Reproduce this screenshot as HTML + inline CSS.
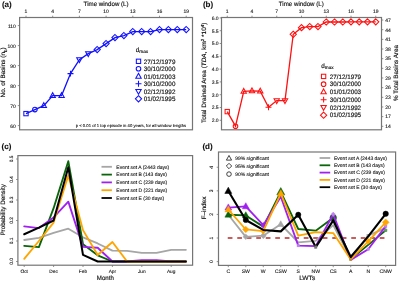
<!DOCTYPE html><html><head><meta charset="utf-8"><style>html,body{margin:0;padding:0;background:#fff;}svg{display:block;filter:blur(0.3px);}</style></head><body>
<svg width="401" height="282" viewBox="0 0 401 282" text-rendering="geometricPrecision" font-family='"Liberation Sans", sans-serif'>
<style>text{stroke:#111;stroke-width:0.1px;} .t{stroke-width:0.15px;}</style>
<rect width="401" height="282" fill="#fff"/>
<text x="1.90" y="7.40" font-size="8.0" text-anchor="start" fill="#111" font-weight="bold">(a)</text>
<text class="t" x="106.10" y="5.70" font-size="6.3" text-anchor="middle" fill="#111" textLength="45" lengthAdjust="spacingAndGlyphs" >Time window (L)</text>
<line x1="26.00" y1="17.5" x2="26.00" y2="15.7" stroke="#757575" stroke-width="0.8"/>
<text x="26.00" y="13.20" font-size="5.0" text-anchor="middle" fill="#111" >1</text>
<line x1="52.70" y1="17.5" x2="52.70" y2="15.7" stroke="#757575" stroke-width="0.8"/>
<text x="52.70" y="13.20" font-size="5.0" text-anchor="middle" fill="#111" >4</text>
<line x1="79.40" y1="17.5" x2="79.40" y2="15.7" stroke="#757575" stroke-width="0.8"/>
<text x="79.40" y="13.20" font-size="5.0" text-anchor="middle" fill="#111" >7</text>
<line x1="106.10" y1="17.5" x2="106.10" y2="15.7" stroke="#757575" stroke-width="0.8"/>
<text x="106.10" y="13.20" font-size="5.0" text-anchor="middle" fill="#111" >10</text>
<line x1="132.80" y1="17.5" x2="132.80" y2="15.7" stroke="#757575" stroke-width="0.8"/>
<text x="132.80" y="13.20" font-size="5.0" text-anchor="middle" fill="#111" >13</text>
<line x1="159.50" y1="17.5" x2="159.50" y2="15.7" stroke="#757575" stroke-width="0.8"/>
<text x="159.50" y="13.20" font-size="5.0" text-anchor="middle" fill="#111" >16</text>
<line x1="186.20" y1="17.5" x2="186.20" y2="15.7" stroke="#757575" stroke-width="0.8"/>
<text x="186.20" y="13.20" font-size="5.0" text-anchor="middle" fill="#111" >19</text>
<line x1="19.6" y1="125.60" x2="17.8" y2="125.60" stroke="#757575" stroke-width="0.8"/>
<text x="15.90" y="127.60" font-size="5.0" text-anchor="end" fill="#111" >60</text>
<line x1="19.6" y1="105.60" x2="17.8" y2="105.60" stroke="#757575" stroke-width="0.8"/>
<text x="15.90" y="107.60" font-size="5.0" text-anchor="end" fill="#111" >70</text>
<line x1="19.6" y1="85.60" x2="17.8" y2="85.60" stroke="#757575" stroke-width="0.8"/>
<text x="15.90" y="87.60" font-size="5.0" text-anchor="end" fill="#111" >80</text>
<line x1="19.6" y1="65.60" x2="17.8" y2="65.60" stroke="#757575" stroke-width="0.8"/>
<text x="15.90" y="67.60" font-size="5.0" text-anchor="end" fill="#111" >90</text>
<line x1="19.6" y1="45.60" x2="17.8" y2="45.60" stroke="#757575" stroke-width="0.8"/>
<text x="15.90" y="47.60" font-size="5.0" text-anchor="end" fill="#111" >100</text>
<line x1="19.6" y1="25.60" x2="17.8" y2="25.60" stroke="#757575" stroke-width="0.8"/>
<text x="15.90" y="27.60" font-size="5.0" text-anchor="end" fill="#111" >110</text>
<rect x="19.6" y="17.5" width="172.9" height="112.30000000000001" fill="none" stroke="#757575" stroke-width="1.2"/>
<text class="t" transform="translate(5.20,72.40) rotate(-90)" font-size="6.3" text-anchor="middle" fill="#111" textLength="50" lengthAdjust="spacingAndGlyphs" >No. of Basins (n<tspan font-size="4.4" dy="1.4">b</tspan><tspan dy="-1.4">)</tspan></text>
<polyline points="26.00,113.60 34.90,109.60 43.80,105.60 52.70,95.60 61.60,95.60 70.50,73.60 79.40,59.60 88.30,53.60 97.20,49.60 106.10,43.60 115.00,37.60 123.90,35.60 132.80,31.60 141.70,31.60 150.60,31.60 159.50,29.60 168.40,29.60 177.30,29.60 186.20,29.60" fill="none" stroke="#1010ff" stroke-width="1.3"/>
<rect x="23.84" y="111.44" width="4.32" height="4.32" fill="none" stroke="#1010ff" stroke-width="1.05"/>
<circle cx="34.90" cy="109.60" r="2.29" fill="none" stroke="#1010ff" stroke-width="1.05"/>
<path d="M43.80,102.63 L46.50,107.49 L41.10,107.49 Z" fill="none" stroke="#1010ff" stroke-width="1.05"/>
<path d="M52.70,92.63 L55.40,97.49 L50.00,97.49 Z" fill="none" stroke="#1010ff" stroke-width="1.05"/>
<path d="M61.60,92.63 L64.30,97.49 L58.90,97.49 Z" fill="none" stroke="#1010ff" stroke-width="1.05"/>
<path d="M67.53,73.60 H73.47 M70.50,70.63 V76.57" stroke="#1010ff" stroke-width="1.05"/>
<path d="M79.40,62.57 L82.10,57.71 L76.70,57.71 Z" fill="none" stroke="#1010ff" stroke-width="1.05"/>
<path d="M88.30,56.57 L91.00,51.71 L85.60,51.71 Z" fill="none" stroke="#1010ff" stroke-width="1.05"/>
<path d="M97.20,46.50 L100.31,49.60 L97.20,52.70 L94.09,49.60 Z" fill="none" stroke="#1010ff" stroke-width="1.05"/>
<path d="M106.10,40.50 L109.21,43.60 L106.10,46.70 L103.00,43.60 Z" fill="none" stroke="#1010ff" stroke-width="1.05"/>
<path d="M115.00,34.50 L118.11,37.60 L115.00,40.70 L111.89,37.60 Z" fill="none" stroke="#1010ff" stroke-width="1.05"/>
<path d="M123.90,32.50 L127.01,35.60 L123.90,38.70 L120.80,35.60 Z" fill="none" stroke="#1010ff" stroke-width="1.05"/>
<path d="M132.80,28.50 L135.91,31.60 L132.80,34.70 L129.70,31.60 Z" fill="none" stroke="#1010ff" stroke-width="1.05"/>
<path d="M141.70,28.50 L144.80,31.60 L141.70,34.70 L138.59,31.60 Z" fill="none" stroke="#1010ff" stroke-width="1.05"/>
<path d="M150.60,28.50 L153.71,31.60 L150.60,34.70 L147.50,31.60 Z" fill="none" stroke="#1010ff" stroke-width="1.05"/>
<path d="M159.50,26.50 L162.60,29.60 L159.50,32.70 L156.40,29.60 Z" fill="none" stroke="#1010ff" stroke-width="1.05"/>
<path d="M168.40,26.50 L171.50,29.60 L168.40,32.70 L165.30,29.60 Z" fill="none" stroke="#1010ff" stroke-width="1.05"/>
<path d="M177.30,26.50 L180.41,29.60 L177.30,32.70 L174.20,29.60 Z" fill="none" stroke="#1010ff" stroke-width="1.05"/>
<path d="M186.20,26.50 L189.31,29.60 L186.20,32.70 L183.10,29.60 Z" fill="none" stroke="#1010ff" stroke-width="1.05"/>
<text class="t" x="135.80" y="51.80" font-size="6.3" text-anchor="start" fill="#111" >d<tspan font-size="4.7" dy="1.2">max</tspan></text>
<rect x="136.34" y="59.14" width="4.32" height="4.32" fill="none" stroke="#1010ff" stroke-width="1.05"/>
<text class="t" x="143.80" y="63.60" font-size="6.3" text-anchor="start" fill="#111" textLength="31.6" lengthAdjust="spacingAndGlyphs" >27/12/1979</text>
<circle cx="138.50" cy="68.80" r="2.29" fill="none" stroke="#1010ff" stroke-width="1.05"/>
<text class="t" x="143.80" y="71.10" font-size="6.3" text-anchor="start" fill="#111" textLength="31.6" lengthAdjust="spacingAndGlyphs" >30/10/2000</text>
<path d="M138.50,73.33 L141.20,78.19 L135.80,78.19 Z" fill="none" stroke="#1010ff" stroke-width="1.05"/>
<text class="t" x="143.80" y="78.60" font-size="6.3" text-anchor="start" fill="#111" textLength="31.6" lengthAdjust="spacingAndGlyphs" >01/01/2003</text>
<path d="M135.53,83.80 H141.47 M138.50,80.83 V86.77" stroke="#1010ff" stroke-width="1.05"/>
<text class="t" x="143.80" y="86.10" font-size="6.3" text-anchor="start" fill="#111" textLength="31.6" lengthAdjust="spacingAndGlyphs" >30/10/2000</text>
<path d="M138.50,94.27 L141.20,89.41 L135.80,89.41 Z" fill="none" stroke="#1010ff" stroke-width="1.05"/>
<text class="t" x="143.80" y="93.60" font-size="6.3" text-anchor="start" fill="#111" textLength="31.6" lengthAdjust="spacingAndGlyphs" >02/12/1992</text>
<path d="M138.50,95.69 L141.60,98.80 L138.50,101.91 L135.40,98.80 Z" fill="none" stroke="#1010ff" stroke-width="1.05"/>
<text class="t" x="143.80" y="101.10" font-size="6.3" text-anchor="start" fill="#111" textLength="31.6" lengthAdjust="spacingAndGlyphs" >01/02/1995</text>
<text x="75.70" y="126.80" font-size="4.2" text-anchor="start" fill="#111" textLength="110.5" lengthAdjust="spacingAndGlyphs" >p &lt; 0.01 of 1 top episode in 40 years, for all window lengths</text>
<text x="202.90" y="7.40" font-size="8.0" text-anchor="start" fill="#111" font-weight="bold">(b)</text>
<text class="t" x="301.30" y="5.70" font-size="6.3" text-anchor="middle" fill="#111" textLength="45" lengthAdjust="spacingAndGlyphs" >Time window (L)</text>
<line x1="227.25" y1="17.5" x2="227.25" y2="15.7" stroke="#757575" stroke-width="0.8"/>
<text x="227.25" y="13.20" font-size="5.0" text-anchor="middle" fill="#111" >1</text>
<line x1="252.00" y1="17.5" x2="252.00" y2="15.7" stroke="#757575" stroke-width="0.8"/>
<text x="252.00" y="13.20" font-size="5.0" text-anchor="middle" fill="#111" >4</text>
<line x1="276.75" y1="17.5" x2="276.75" y2="15.7" stroke="#757575" stroke-width="0.8"/>
<text x="276.75" y="13.20" font-size="5.0" text-anchor="middle" fill="#111" >7</text>
<line x1="301.50" y1="17.5" x2="301.50" y2="15.7" stroke="#757575" stroke-width="0.8"/>
<text x="301.50" y="13.20" font-size="5.0" text-anchor="middle" fill="#111" >10</text>
<line x1="326.25" y1="17.5" x2="326.25" y2="15.7" stroke="#757575" stroke-width="0.8"/>
<text x="326.25" y="13.20" font-size="5.0" text-anchor="middle" fill="#111" >13</text>
<line x1="351.00" y1="17.5" x2="351.00" y2="15.7" stroke="#757575" stroke-width="0.8"/>
<text x="351.00" y="13.20" font-size="5.0" text-anchor="middle" fill="#111" >16</text>
<line x1="375.75" y1="17.5" x2="375.75" y2="15.7" stroke="#757575" stroke-width="0.8"/>
<text x="375.75" y="13.20" font-size="5.0" text-anchor="middle" fill="#111" >19</text>
<line x1="221.5" y1="120.30" x2="219.7" y2="120.30" stroke="#757575" stroke-width="0.8"/>
<text x="218.60" y="122.10" font-size="5.0" text-anchor="end" fill="#111" >2.0</text>
<line x1="221.5" y1="107.50" x2="219.7" y2="107.50" stroke="#757575" stroke-width="0.8"/>
<text x="218.60" y="109.30" font-size="5.0" text-anchor="end" fill="#111" >2.5</text>
<line x1="221.5" y1="94.70" x2="219.7" y2="94.70" stroke="#757575" stroke-width="0.8"/>
<text x="218.60" y="96.50" font-size="5.0" text-anchor="end" fill="#111" >3.0</text>
<line x1="221.5" y1="81.90" x2="219.7" y2="81.90" stroke="#757575" stroke-width="0.8"/>
<text x="218.60" y="83.70" font-size="5.0" text-anchor="end" fill="#111" >3.5</text>
<line x1="221.5" y1="69.10" x2="219.7" y2="69.10" stroke="#757575" stroke-width="0.8"/>
<text x="218.60" y="70.90" font-size="5.0" text-anchor="end" fill="#111" >4.0</text>
<line x1="221.5" y1="56.30" x2="219.7" y2="56.30" stroke="#757575" stroke-width="0.8"/>
<text x="218.60" y="58.10" font-size="5.0" text-anchor="end" fill="#111" >4.5</text>
<line x1="221.5" y1="43.50" x2="219.7" y2="43.50" stroke="#757575" stroke-width="0.8"/>
<text x="218.60" y="45.30" font-size="5.0" text-anchor="end" fill="#111" >5.0</text>
<line x1="221.5" y1="30.70" x2="219.7" y2="30.70" stroke="#757575" stroke-width="0.8"/>
<text x="218.60" y="32.50" font-size="5.0" text-anchor="end" fill="#111" >5.5</text>
<line x1="221.5" y1="17.90" x2="219.7" y2="17.90" stroke="#757575" stroke-width="0.8"/>
<text x="218.60" y="19.70" font-size="5.0" text-anchor="end" fill="#111" >6.0</text>
<line x1="381.5" y1="126.30" x2="383.3" y2="126.30" stroke="#757575" stroke-width="0.8"/>
<text x="385.20" y="128.10" font-size="5.0" text-anchor="start" fill="#111" >14</text>
<line x1="381.5" y1="116.64" x2="383.3" y2="116.64" stroke="#757575" stroke-width="0.8"/>
<text x="385.20" y="118.44" font-size="5.0" text-anchor="start" fill="#111" >17</text>
<line x1="381.5" y1="106.98" x2="383.3" y2="106.98" stroke="#757575" stroke-width="0.8"/>
<text x="385.20" y="108.78" font-size="5.0" text-anchor="start" fill="#111" >20</text>
<line x1="381.5" y1="97.32" x2="383.3" y2="97.32" stroke="#757575" stroke-width="0.8"/>
<text x="385.20" y="99.12" font-size="5.0" text-anchor="start" fill="#111" >23</text>
<line x1="381.5" y1="87.66" x2="383.3" y2="87.66" stroke="#757575" stroke-width="0.8"/>
<text x="385.20" y="89.46" font-size="5.0" text-anchor="start" fill="#111" >26</text>
<line x1="381.5" y1="78.00" x2="383.3" y2="78.00" stroke="#757575" stroke-width="0.8"/>
<text x="385.20" y="79.80" font-size="5.0" text-anchor="start" fill="#111" >29</text>
<line x1="381.5" y1="68.34" x2="383.3" y2="68.34" stroke="#757575" stroke-width="0.8"/>
<text x="385.20" y="70.14" font-size="5.0" text-anchor="start" fill="#111" >32</text>
<line x1="381.5" y1="58.68" x2="383.3" y2="58.68" stroke="#757575" stroke-width="0.8"/>
<text x="385.20" y="60.48" font-size="5.0" text-anchor="start" fill="#111" >35</text>
<line x1="381.5" y1="49.02" x2="383.3" y2="49.02" stroke="#757575" stroke-width="0.8"/>
<text x="385.20" y="50.82" font-size="5.0" text-anchor="start" fill="#111" >38</text>
<line x1="381.5" y1="39.36" x2="383.3" y2="39.36" stroke="#757575" stroke-width="0.8"/>
<text x="385.20" y="41.16" font-size="5.0" text-anchor="start" fill="#111" >41</text>
<line x1="381.5" y1="29.70" x2="383.3" y2="29.70" stroke="#757575" stroke-width="0.8"/>
<text x="385.20" y="31.50" font-size="5.0" text-anchor="start" fill="#111" >44</text>
<line x1="381.5" y1="20.04" x2="383.3" y2="20.04" stroke="#757575" stroke-width="0.8"/>
<text x="385.20" y="21.84" font-size="5.0" text-anchor="start" fill="#111" >47</text>
<rect x="221.5" y="17.5" width="160.0" height="112.30000000000001" fill="none" stroke="#757575" stroke-width="1.2"/>
<text class="t" transform="translate(206.20,72.80) rotate(-90)" font-size="6.3" text-anchor="middle" fill="#111" textLength="100.5" lengthAdjust="spacingAndGlyphs" >Total Drained Area (<tspan font-style="italic">TDA</tspan>, km<tspan font-size="4.4" dy="-2">2</tspan><tspan dy="2"> *10</tspan><tspan font-size="4.4" dy="-2">4</tspan><tspan dy="2">)</tspan></text>
<text class="t" transform="translate(398.40,73.00) rotate(-90)" font-size="6.3" text-anchor="middle" fill="#111" >% Total Basins Area</text>
<polyline points="227.25,111.60 235.50,126.19 243.75,91.37 252.00,90.86 260.25,91.12 268.50,107.24 276.75,100.59 285.00,100.59 293.25,34.28 301.50,27.63 309.75,26.60 318.00,26.60 326.25,22.00 334.50,22.00 342.75,22.00 351.00,21.87 359.25,21.87 367.50,21.87 375.75,21.87" fill="none" stroke="#ff1010" stroke-width="1.3"/>
<rect x="225.09" y="109.44" width="4.32" height="4.32" fill="none" stroke="#ff1010" stroke-width="1.05"/>
<circle cx="235.50" cy="126.19" r="2.29" fill="none" stroke="#ff1010" stroke-width="1.05"/>
<path d="M243.75,88.40 L246.45,93.26 L241.05,93.26 Z" fill="none" stroke="#ff1010" stroke-width="1.05"/>
<path d="M252.00,87.89 L254.70,92.75 L249.30,92.75 Z" fill="none" stroke="#ff1010" stroke-width="1.05"/>
<path d="M260.25,88.15 L262.95,93.01 L257.55,93.01 Z" fill="none" stroke="#ff1010" stroke-width="1.05"/>
<path d="M265.53,107.24 H271.47 M268.50,104.27 V110.21" stroke="#ff1010" stroke-width="1.05"/>
<path d="M276.75,103.56 L279.45,98.70 L274.05,98.70 Z" fill="none" stroke="#ff1010" stroke-width="1.05"/>
<path d="M285.00,103.56 L287.70,98.70 L282.30,98.70 Z" fill="none" stroke="#ff1010" stroke-width="1.05"/>
<path d="M293.25,31.18 L296.36,34.28 L293.25,37.39 L290.14,34.28 Z" fill="none" stroke="#ff1010" stroke-width="1.05"/>
<path d="M301.50,24.52 L304.61,27.63 L301.50,30.73 L298.39,27.63 Z" fill="none" stroke="#ff1010" stroke-width="1.05"/>
<path d="M309.75,23.50 L312.86,26.60 L309.75,29.71 L306.64,26.60 Z" fill="none" stroke="#ff1010" stroke-width="1.05"/>
<path d="M318.00,23.50 L321.11,26.60 L318.00,29.71 L314.89,26.60 Z" fill="none" stroke="#ff1010" stroke-width="1.05"/>
<path d="M326.25,18.89 L329.36,22.00 L326.25,25.10 L323.14,22.00 Z" fill="none" stroke="#ff1010" stroke-width="1.05"/>
<path d="M334.50,18.89 L337.61,22.00 L334.50,25.10 L331.39,22.00 Z" fill="none" stroke="#ff1010" stroke-width="1.05"/>
<path d="M342.75,18.89 L345.86,22.00 L342.75,25.10 L339.64,22.00 Z" fill="none" stroke="#ff1010" stroke-width="1.05"/>
<path d="M351.00,18.76 L354.11,21.87 L351.00,24.97 L347.89,21.87 Z" fill="none" stroke="#ff1010" stroke-width="1.05"/>
<path d="M359.25,18.76 L362.36,21.87 L359.25,24.97 L356.14,21.87 Z" fill="none" stroke="#ff1010" stroke-width="1.05"/>
<path d="M367.50,18.76 L370.61,21.87 L367.50,24.97 L364.39,21.87 Z" fill="none" stroke="#ff1010" stroke-width="1.05"/>
<path d="M375.75,18.76 L378.86,21.87 L375.75,24.97 L372.64,21.87 Z" fill="none" stroke="#ff1010" stroke-width="1.05"/>
<text class="t" x="321.30" y="68.00" font-size="6.3" text-anchor="start" fill="#111" >d<tspan font-size="4.7" dy="1.2">max</tspan></text>
<rect x="321.44" y="74.24" width="4.32" height="4.32" fill="none" stroke="#ff1010" stroke-width="1.05"/>
<text class="t" x="329.80" y="78.70" font-size="6.3" text-anchor="start" fill="#111" textLength="31.3" lengthAdjust="spacingAndGlyphs" >27/12/1979</text>
<circle cx="323.60" cy="84.15" r="2.29" fill="none" stroke="#ff1010" stroke-width="1.05"/>
<text class="t" x="329.80" y="86.45" font-size="6.3" text-anchor="start" fill="#111" textLength="31.3" lengthAdjust="spacingAndGlyphs" >30/10/2000</text>
<path d="M323.60,88.93 L326.30,93.79 L320.90,93.79 Z" fill="none" stroke="#ff1010" stroke-width="1.05"/>
<text class="t" x="329.80" y="94.20" font-size="6.3" text-anchor="start" fill="#111" textLength="31.3" lengthAdjust="spacingAndGlyphs" >01/01/2003</text>
<path d="M320.63,99.65 H326.57 M323.60,96.68 V102.62" stroke="#ff1010" stroke-width="1.05"/>
<text class="t" x="329.80" y="101.95" font-size="6.3" text-anchor="start" fill="#111" textLength="31.3" lengthAdjust="spacingAndGlyphs" >30/10/2000</text>
<path d="M323.60,110.37 L326.30,105.51 L320.90,105.51 Z" fill="none" stroke="#ff1010" stroke-width="1.05"/>
<text class="t" x="329.80" y="109.70" font-size="6.3" text-anchor="start" fill="#111" textLength="31.3" lengthAdjust="spacingAndGlyphs" >02/12/1992</text>
<path d="M323.60,112.05 L326.71,115.15 L323.60,118.26 L320.50,115.15 Z" fill="none" stroke="#ff1010" stroke-width="1.05"/>
<text class="t" x="329.80" y="117.45" font-size="6.3" text-anchor="start" fill="#111" textLength="31.3" lengthAdjust="spacingAndGlyphs" >01/02/1995</text>
<text x="1.60" y="149.10" font-size="8.0" text-anchor="start" fill="#111" font-weight="bold">(c)</text>
<line x1="24.20" y1="265.2" x2="24.20" y2="267.0" stroke="#757575" stroke-width="0.8"/>
<text x="24.20" y="272.50" font-size="4.8" text-anchor="middle" fill="#111" >Oct</text>
<line x1="53.60" y1="265.2" x2="53.60" y2="267.0" stroke="#757575" stroke-width="0.8"/>
<text x="53.60" y="272.50" font-size="4.8" text-anchor="middle" fill="#111" >Dec</text>
<line x1="83.00" y1="265.2" x2="83.00" y2="267.0" stroke="#757575" stroke-width="0.8"/>
<text x="83.00" y="272.50" font-size="4.8" text-anchor="middle" fill="#111" >Feb</text>
<line x1="112.40" y1="265.2" x2="112.40" y2="267.0" stroke="#757575" stroke-width="0.8"/>
<text x="112.40" y="272.50" font-size="4.8" text-anchor="middle" fill="#111" >Apr</text>
<line x1="141.80" y1="265.2" x2="141.80" y2="267.0" stroke="#757575" stroke-width="0.8"/>
<text x="141.80" y="272.50" font-size="4.8" text-anchor="middle" fill="#111" >Jun</text>
<line x1="171.20" y1="265.2" x2="171.20" y2="267.0" stroke="#757575" stroke-width="0.8"/>
<text x="171.20" y="272.50" font-size="4.8" text-anchor="middle" fill="#111" >Aug</text>
<line x1="17.9" y1="261.50" x2="16.099999999999998" y2="261.50" stroke="#757575" stroke-width="0.8"/>
<text transform="translate(13.10,261.50) rotate(-90)" font-size="4.8" text-anchor="middle" fill="#111" >0.0</text>
<line x1="17.9" y1="241.00" x2="16.099999999999998" y2="241.00" stroke="#757575" stroke-width="0.8"/>
<text transform="translate(13.10,241.00) rotate(-90)" font-size="4.8" text-anchor="middle" fill="#111" >0.1</text>
<line x1="17.9" y1="220.50" x2="16.099999999999998" y2="220.50" stroke="#757575" stroke-width="0.8"/>
<text transform="translate(13.10,220.50) rotate(-90)" font-size="4.8" text-anchor="middle" fill="#111" >0.2</text>
<line x1="17.9" y1="200.00" x2="16.099999999999998" y2="200.00" stroke="#757575" stroke-width="0.8"/>
<text transform="translate(13.10,200.00) rotate(-90)" font-size="4.8" text-anchor="middle" fill="#111" >0.3</text>
<line x1="17.9" y1="179.50" x2="16.099999999999998" y2="179.50" stroke="#757575" stroke-width="0.8"/>
<text transform="translate(13.10,179.50) rotate(-90)" font-size="4.8" text-anchor="middle" fill="#111" >0.4</text>
<line x1="17.9" y1="159.00" x2="16.099999999999998" y2="159.00" stroke="#757575" stroke-width="0.8"/>
<text transform="translate(13.10,159.00) rotate(-90)" font-size="4.8" text-anchor="middle" fill="#111" >0.5</text>
<rect x="17.9" y="155.6" width="174.7" height="109.6" fill="none" stroke="#757575" stroke-width="1.2"/>
<text class="t" transform="translate(5.20,209.80) rotate(-90)" font-size="6.3" text-anchor="middle" fill="#111" textLength="51.5" lengthAdjust="spacingAndGlyphs" >Probability Density</text>
<text class="t" x="105.30" y="280.00" font-size="6.3" text-anchor="middle" fill="#111" textLength="17" lengthAdjust="spacingAndGlyphs" >Month</text>
<polyline points="24.20,239.97 38.90,237.93 53.60,232.80 68.30,228.70 83.00,237.31 97.70,243.46 112.40,250.63 127.10,250.84 141.80,252.89 156.50,252.89 171.20,249.81 185.90,249.81" fill="none" stroke="#a6a6a6" stroke-width="1.85" stroke-linejoin="round" stroke-linecap="round"/>
<polyline points="24.20,245.92 38.90,247.15 53.60,208.20 68.30,161.25 83.00,244.28 97.70,255.35 112.40,261.50 127.10,261.50 141.80,261.50 156.50,261.50 171.20,261.50 185.90,261.50" fill="none" stroke="#0a640a" stroke-width="1.85" stroke-linejoin="round" stroke-linecap="round"/>
<polyline points="24.20,226.44 38.90,228.09 53.60,217.43 68.30,201.64 83.00,246.94 97.70,247.76 112.40,261.50 127.10,261.50 141.80,260.27 156.50,260.27 171.20,261.50 185.90,261.50" fill="none" stroke="#a020f0" stroke-width="1.85" stroke-linejoin="round" stroke-linecap="round"/>
<polyline points="24.20,258.83 38.90,241.00 53.60,222.55 68.30,175.40 83.00,230.13 97.70,254.94 112.40,242.03 127.10,261.50 141.80,261.50 156.50,261.50 171.20,261.50 185.90,261.50" fill="none" stroke="#ffa500" stroke-width="1.85" stroke-linejoin="round" stroke-linecap="round"/>
<polyline points="24.20,234.24 38.90,227.68 53.60,220.50 68.30,167.20 83.00,254.94 97.70,261.50 112.40,261.50 127.10,261.50 141.80,261.50 156.50,261.50 171.20,261.50 185.90,261.50" fill="none" stroke="#000000" stroke-width="2.0" stroke-linejoin="round" stroke-linecap="round"/>
<line x1="101.5" y1="166.80" x2="111.9" y2="166.80" stroke="#a6a6a6" stroke-width="1.8"/>
<text x="116.30" y="168.60" font-size="5.0" text-anchor="start" fill="#111" >Event set A (2443 days)</text>
<line x1="101.5" y1="174.60" x2="111.9" y2="174.60" stroke="#0a640a" stroke-width="1.8"/>
<text x="116.30" y="176.40" font-size="5.0" text-anchor="start" fill="#111" >Event set B (143 days)</text>
<line x1="101.5" y1="182.40" x2="111.9" y2="182.40" stroke="#a020f0" stroke-width="1.8"/>
<text x="116.30" y="184.20" font-size="5.0" text-anchor="start" fill="#111" >Event set C (239 days)</text>
<line x1="101.5" y1="190.20" x2="111.9" y2="190.20" stroke="#ffa500" stroke-width="1.8"/>
<text x="116.30" y="192.00" font-size="5.0" text-anchor="start" fill="#111" >Event set D (221 days)</text>
<line x1="101.5" y1="198.00" x2="111.9" y2="198.00" stroke="#000000" stroke-width="1.8"/>
<text x="116.30" y="199.80" font-size="5.0" text-anchor="start" fill="#111" >Event set E (30 days)</text>
<text x="202.40" y="149.10" font-size="8.0" text-anchor="start" fill="#111" font-weight="bold">(d)</text>
<line x1="228.30" y1="265.4" x2="228.30" y2="267.2" stroke="#757575" stroke-width="0.8"/>
<text x="228.30" y="272.70" font-size="5.1" text-anchor="middle" fill="#111" >C</text>
<line x1="245.79" y1="265.4" x2="245.79" y2="267.2" stroke="#757575" stroke-width="0.8"/>
<text x="245.79" y="272.70" font-size="5.1" text-anchor="middle" fill="#111" >SW</text>
<line x1="263.28" y1="265.4" x2="263.28" y2="267.2" stroke="#757575" stroke-width="0.8"/>
<text x="263.28" y="272.70" font-size="5.1" text-anchor="middle" fill="#111" >W</text>
<line x1="280.77" y1="265.4" x2="280.77" y2="267.2" stroke="#757575" stroke-width="0.8"/>
<text x="280.77" y="272.70" font-size="5.1" text-anchor="middle" fill="#111" >CSW</text>
<line x1="298.26" y1="265.4" x2="298.26" y2="267.2" stroke="#757575" stroke-width="0.8"/>
<text x="298.26" y="272.70" font-size="5.1" text-anchor="middle" fill="#111" >S</text>
<line x1="315.75" y1="265.4" x2="315.75" y2="267.2" stroke="#757575" stroke-width="0.8"/>
<text x="315.75" y="272.70" font-size="5.1" text-anchor="middle" fill="#111" >NW</text>
<line x1="333.24" y1="265.4" x2="333.24" y2="267.2" stroke="#757575" stroke-width="0.8"/>
<text x="333.24" y="272.70" font-size="5.1" text-anchor="middle" fill="#111" >CS</text>
<line x1="350.73" y1="265.4" x2="350.73" y2="267.2" stroke="#757575" stroke-width="0.8"/>
<text x="350.73" y="272.70" font-size="5.1" text-anchor="middle" fill="#111" >A</text>
<line x1="368.22" y1="265.4" x2="368.22" y2="267.2" stroke="#757575" stroke-width="0.8"/>
<text x="368.22" y="272.70" font-size="5.1" text-anchor="middle" fill="#111" >N</text>
<line x1="385.71" y1="265.4" x2="385.71" y2="267.2" stroke="#757575" stroke-width="0.8"/>
<text x="385.71" y="272.70" font-size="5.1" text-anchor="middle" fill="#111" >CNW</text>
<line x1="218.5" y1="261.60" x2="216.7" y2="261.60" stroke="#757575" stroke-width="0.8"/>
<text transform="translate(212.90,261.60) rotate(-90)" font-size="5.0" text-anchor="middle" fill="#111" >0</text>
<line x1="218.5" y1="238.01" x2="216.7" y2="238.01" stroke="#757575" stroke-width="0.8"/>
<text transform="translate(212.90,238.01) rotate(-90)" font-size="5.0" text-anchor="middle" fill="#111" >1</text>
<line x1="218.5" y1="214.42" x2="216.7" y2="214.42" stroke="#757575" stroke-width="0.8"/>
<text transform="translate(212.90,214.42) rotate(-90)" font-size="5.0" text-anchor="middle" fill="#111" >2</text>
<line x1="218.5" y1="190.83" x2="216.7" y2="190.83" stroke="#757575" stroke-width="0.8"/>
<text transform="translate(212.90,190.83) rotate(-90)" font-size="5.0" text-anchor="middle" fill="#111" >3</text>
<line x1="218.5" y1="167.24" x2="216.7" y2="167.24" stroke="#757575" stroke-width="0.8"/>
<text transform="translate(212.90,167.24) rotate(-90)" font-size="5.0" text-anchor="middle" fill="#111" >4</text>
<rect x="218.5" y="152.0" width="177.10000000000002" height="113.39999999999998" fill="none" stroke="#757575" stroke-width="1.2"/>
<text class="t" transform="translate(205.80,208.00) rotate(-90)" font-size="6.3" text-anchor="middle" fill="#111" textLength="23" lengthAdjust="spacingAndGlyphs" >F–index</text>
<text class="t" x="307.20" y="280.00" font-size="6.3" text-anchor="middle" fill="#111" textLength="16" lengthAdjust="spacingAndGlyphs" >LWTs</text>
<line x1="227.75" y1="238.0" x2="385" y2="238.0" stroke="#b82828" stroke-width="1.6" stroke-dasharray="4.7,4.8"/>
<polyline points="228.30,214.75 245.79,236.84 263.28,235.65 280.77,224.25 298.26,242.30 315.75,240.88 333.24,225.20 350.73,258.69 368.22,235.65 385.71,227.81" fill="none" stroke="#a6a6a6" stroke-width="1.8" stroke-linejoin="round" stroke-linecap="round"/>
<path d="M245.79,234.08 L248.55,236.84 L245.79,239.60 L243.03,236.84 Z" fill="#a6a6a6" stroke="#a6a6a6" stroke-width="0.5"/>
<path d="M263.28,232.66 L266.27,235.65 L263.28,238.64 L260.29,235.65 Z" fill="#a6a6a6" stroke="#a6a6a6" stroke-width="0.5"/>
<path d="M280.77,220.73 L283.97,226.49 L277.57,226.49 Z" fill="#a6a6a6" stroke="#a6a6a6" stroke-width="0.5"/>
<rect x="366.94" y="234.37" width="2.56" height="2.56" fill="#999" stroke="#999" stroke-width="0.5"/>
<polyline points="228.30,214.75 245.79,215.46 263.28,226.62 280.77,191.95 298.26,229.00 315.75,230.66 333.24,217.84 350.73,259.16 368.22,244.91 385.71,230.43" fill="none" stroke="#0a640a" stroke-width="1.8" stroke-linejoin="round" stroke-linecap="round"/>
<path d="M228.30,211.01 L231.70,217.13 L224.90,217.13 Z" fill="#0a640a" stroke="#0a640a" stroke-width="0.5"/>
<path d="M245.79,211.72 L249.19,217.84 L242.39,217.84 Z" fill="#0a640a" stroke="#0a640a" stroke-width="0.5"/>
<path d="M280.77,187.55 L284.77,194.75 L276.77,194.75 Z" fill="#0a640a" stroke="#0a640a" stroke-width="0.5"/>
<circle cx="333.24" cy="217.84" r="3.31" fill="#0a640a" stroke="#0a640a" stroke-width="0.5"/>
<rect x="384.43" y="229.15" width="2.56" height="2.56" fill="#5a9a5a" stroke="#5a9a5a" stroke-width="0.5"/>
<polyline points="228.30,207.62 245.79,206.44 263.28,225.20 280.77,196.70 298.26,245.62 315.75,246.10 333.24,214.28 350.73,259.88 368.22,249.19 385.71,226.15" fill="none" stroke="#a020f0" stroke-width="1.8" stroke-linejoin="round" stroke-linecap="round"/>
<path d="M228.30,203.88 L231.70,210.00 L224.90,210.00 Z" fill="#a020f0" stroke="#a020f0" stroke-width="0.5"/>
<path d="M245.79,202.70 L249.19,208.82 L242.39,208.82 Z" fill="#a020f0" stroke="#a020f0" stroke-width="0.5"/>
<path d="M263.28,222.44 L266.04,225.20 L263.28,227.96 L260.52,225.20 Z" fill="#a020f0" stroke="#a020f0" stroke-width="0.5"/>
<rect x="297.06" y="244.43" width="2.40" height="2.40" fill="#c080f0" stroke="#c080f0" stroke-width="0.5"/>
<path d="M333.24,212.09 L335.43,214.28 L333.24,216.46 L331.06,214.28 Z" fill="#c080f0" stroke="#c080f0" stroke-width="0.5"/>
<rect x="367.02" y="247.99" width="2.40" height="2.40" fill="#c080f0" stroke="#c080f0" stroke-width="0.5"/>
<rect x="384.51" y="224.95" width="2.40" height="2.40" fill="#c080f0" stroke="#c080f0" stroke-width="0.5"/>
<polyline points="228.30,209.53 245.79,229.47 263.28,231.14 280.77,193.38 298.26,235.65 315.75,232.09 333.24,233.04 350.73,259.40 368.22,241.35 385.71,222.35" fill="none" stroke="#ffa500" stroke-width="1.8" stroke-linejoin="round" stroke-linecap="round"/>
<path d="M228.30,205.78 L231.70,211.91 L224.90,211.91 Z" fill="#ffa500" stroke="#ffa500" stroke-width="0.5"/>
<path d="M245.79,226.25 L249.01,229.47 L245.79,232.69 L242.57,229.47 Z" fill="#ffa500" stroke="#ffa500" stroke-width="0.5"/>
<path d="M263.28,228.38 L266.04,231.14 L263.28,233.90 L260.52,231.14 Z" fill="#ffa500" stroke="#ffa500" stroke-width="0.5"/>
<path d="M280.77,189.63 L284.17,195.75 L277.37,195.75 Z" fill="#ffa500" stroke="#ffa500" stroke-width="0.5"/>
<rect x="349.53" y="258.20" width="2.40" height="2.40" fill="#c09030" stroke="#c09030" stroke-width="0.5"/>
<path d="M368.22,238.36 L371.21,241.35 L368.22,244.34 L365.23,241.35 Z" fill="#ffa500" stroke="#ffa500" stroke-width="0.5"/>
<path d="M385.71,218.90 L389.16,222.35 L385.71,225.80 L382.26,222.35 Z" fill="#ffa500" stroke="#ffa500" stroke-width="0.5"/>
<polyline points="228.30,191.00 245.79,219.97 263.28,229.95 280.77,231.38 298.26,214.75 315.75,247.05 333.24,220.45 350.73,257.02 368.22,236.36 385.71,213.80" fill="none" stroke="#000000" stroke-width="2.1" stroke-linejoin="round" stroke-linecap="round"/>
<path d="M228.30,187.15 L231.80,193.45 L224.80,193.45 Z" fill="#000000" stroke="#000000" stroke-width="0.5"/>
<circle cx="245.79" cy="219.97" r="2.63" fill="#000000" stroke="#000000" stroke-width="0.5"/>
<circle cx="298.26" cy="214.75" r="2.63" fill="#000000" stroke="#000000" stroke-width="0.5"/>
<rect x="314.55" y="245.85" width="2.40" height="2.40" fill="#777" stroke="#777" stroke-width="0.5"/>
<circle cx="385.71" cy="213.80" r="2.72" fill="#000000" stroke="#000000" stroke-width="0.5"/>
<path d="M229.00,155.44 L231.60,160.12 L226.40,160.12 Z" fill="none" stroke="#222" stroke-width="0.85"/>
<path d="M229.00,163.30 L231.70,166.00 L229.00,168.70 L226.30,166.00 Z" fill="none" stroke="#222" stroke-width="0.85"/>
<circle cx="229.00" cy="174.10" r="2.29" fill="none" stroke="#222" stroke-width="0.85"/>
<text x="235.20" y="160.00" font-size="5.0" text-anchor="start" fill="#111" textLength="33.7" lengthAdjust="spacingAndGlyphs" >99% significant</text>
<text x="235.20" y="167.95" font-size="5.0" text-anchor="start" fill="#111" textLength="33.7" lengthAdjust="spacingAndGlyphs" >95% significant</text>
<text x="235.20" y="175.90" font-size="5.0" text-anchor="start" fill="#111" textLength="33.7" lengthAdjust="spacingAndGlyphs" >90% significant</text>
<line x1="319.6" y1="158.00" x2="330.2" y2="158.00" stroke="#a6a6a6" stroke-width="1.8"/>
<text x="334.00" y="159.80" font-size="5.0" text-anchor="start" fill="#111" >Event set A (2443 days)</text>
<line x1="319.6" y1="165.30" x2="330.2" y2="165.30" stroke="#0a640a" stroke-width="1.8"/>
<text x="334.00" y="167.10" font-size="5.0" text-anchor="start" fill="#111" >Event set B (143 days)</text>
<line x1="319.6" y1="172.60" x2="330.2" y2="172.60" stroke="#a020f0" stroke-width="1.8"/>
<text x="334.00" y="174.40" font-size="5.0" text-anchor="start" fill="#111" >Event set C (239 days)</text>
<line x1="319.6" y1="179.90" x2="330.2" y2="179.90" stroke="#ffa500" stroke-width="1.8"/>
<text x="334.00" y="181.70" font-size="5.0" text-anchor="start" fill="#111" >Event set D (221 days)</text>
<line x1="319.6" y1="187.20" x2="330.2" y2="187.20" stroke="#000000" stroke-width="1.8"/>
<text x="334.00" y="189.00" font-size="5.0" text-anchor="start" fill="#111" >Event set E (30 days)</text>
</svg></body></html>
